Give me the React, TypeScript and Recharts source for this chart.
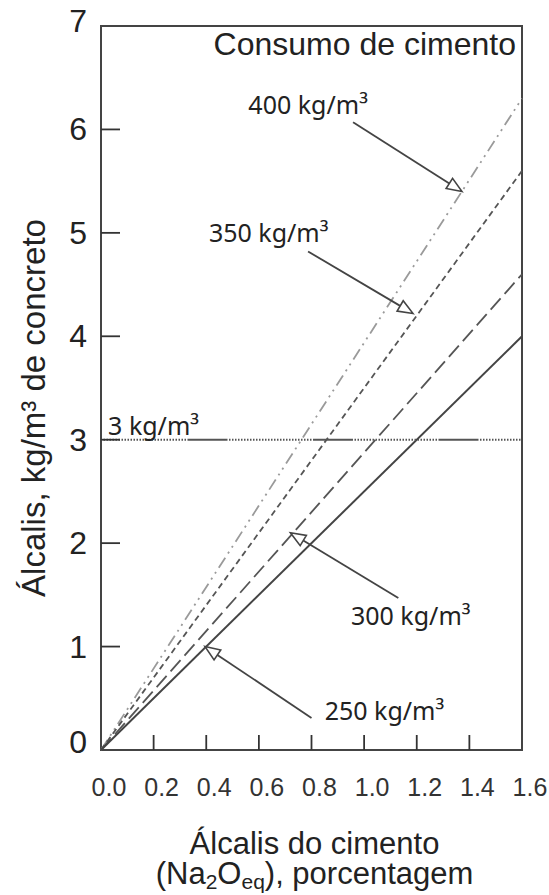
import React from 'react';
import { LineChart, Line, XAxis, YAxis, ReferenceLine, ReferenceDot, ReferenceArea } from 'recharts';

// alkali content of the cement (%), two ends of each line
const alkaliPct = [0, 1.6];
// alkalis per m3 of concrete, one series per cement content
const cement250 = [0, 4.0];
const cement300 = [0, 4.6];
const cement350 = [0, 5.6];
const cement400 = [0, 6.3];

const xTicks = [0, 0.2, 0.4, 0.6, 0.8, 1.0, 1.2, 1.4, 1.6];
const yTicks = [0, 1, 2, 3, 4, 5, 6, 7];
const limitLevel = 3;

const toPoints = (ys: number[]) => alkaliPct.map((x, i) => ({ x, y: ys[i] }));

const SANS = 'Liberation Sans, Arial, sans-serif';
const NOTE = "'Noto Sans', sans-serif";
const INK = '#222';

// dotted limit line with a short solid stretch every ~125px
const limitDash = ['40', ...Array(57).fill('1.5')].join(' ');

const YTick = (props: any) => {
  const { x, y, payload } = props;
  const v = payload.value;
  const shift = v === 0 ? -8 : v === 7 ? -5 : 0;
  return (
    <g>
      {v !== 0 && v !== 7 && <line x1={x} x2={x + 19} y1={y} y2={y} stroke="#333" strokeWidth={1.8} />}
      <text x={x - 14} y={y + shift} dy={11} textAnchor="end" fontSize={32} fontFamily={SANS} fill={INK}>
        {v}
      </text>
    </g>
  );
};

const XTick = (props: any) => {
  const { x, y, payload } = props;
  const v = payload.value;
  return (
    <g>
      {v !== 0 && v !== 1.6 && <line x1={x} x2={x} y1={y} y2={y - 15} stroke="#333" strokeWidth={1.8} />}
      <text x={x + 8} y={y + 46} textAnchor="middle" fontSize={25} fontFamily={SANS} fill="#333">
        {v.toFixed(1)}
      </text>
    </g>
  );
};

const XTitle = (props: any) => {
  const { x, y, width } = props.viewBox;
  const cx = x + width / 2 + 3;
  return (
    <g fontFamily={SANS} fontSize={31} fill={INK}>
      <text x={cx} y={y + 104} textAnchor="middle">Álcalis do cimento</text>
      <text x={cx} y={y + 134} textAnchor="middle">
        <tspan>(Na</tspan>
        <tspan dy={5} fontSize={21}>2</tspan>
        <tspan dy={-5}>O</tspan>
        <tspan dy={5} fontSize={21}>eq</tspan>
        <tspan dy={-5}>), porcentagem</tspan>
      </text>
    </g>
  );
};

const YTitle = (props: any) => {
  const { y, height } = props.viewBox;
  const cy = y + height / 2 + 20;
  return (
    <text
      x={45}
      y={cy}
      transform={`rotate(-90, 45, ${cy})`}
      textAnchor="middle"
      fontFamily={SANS}
      fontSize={33}
      fill={INK}
    >
      Álcalis, kg/m³ de concreto
    </text>
  );
};

const Arrow = (props: any) => {
  const { x1, y1, x2, y2 } = props;
  const a = Math.atan2(y2 - y1, x2 - x1);
  const len = 15;
  const half = 6;
  const bx = x2 - len * Math.cos(a);
  const by = y2 - len * Math.sin(a);
  const px = -Math.sin(a) * half;
  const py = Math.cos(a) * half;
  return (
    <g>
      <line x1={x1} y1={y1} x2={bx} y2={by} stroke="#444" strokeWidth={1.8} />
      <polygon
        points={`${x2},${y2} ${bx + px},${by + py} ${bx - px},${by - py}`}
        fill="#fff"
        stroke="#444"
        strokeWidth={1.6}
      />
    </g>
  );
};

const note = (text: string, anchor = 'start', size = 25, family = NOTE) => (props: any) => (
  <text x={props.cx} y={props.cy} textAnchor={anchor} fontSize={size} fontFamily={family} fill={INK}>
    {text}
  </text>
);

const App: React.FC = () => {
  return (
    <div style={{ position: 'absolute', left: 0, top: 0, background: '#fff' }}>
      <LineChart width={549} height={895} margin={{ top: 26, right: 27, bottom: 0, left: 0 }}>
        <XAxis
          dataKey="x"
          type="number"
          domain={[0, 1.6]}
          ticks={xTicks}
          axisLine={false}
          tickLine={false}
          tickSize={0}
          tickMargin={0}
          height={145}
          tick={<XTick />}
          interval={0}
          label={(p: any) => <XTitle {...p} />}
        />
        <YAxis
          type="number"
          domain={[0, 7]}
          ticks={yTicks}
          axisLine={false}
          tickLine={false}
          tickSize={0}
          tickMargin={0}
          width={101}
          tick={<YTick />}
          interval={0}
          label={(p: any) => <YTitle {...p} />}
        />

        <Line data={toPoints(cement400)} dataKey="y" type="linear" stroke="#9a9a9a" strokeWidth={1.8}
          strokeDasharray="12 5 2 5 2 5" dot={false} isAnimationActive={false} />
        <Line data={toPoints(cement350)} dataKey="y" type="linear" stroke="#555" strokeWidth={1.8}
          strokeDasharray="6 4" dot={false} isAnimationActive={false} />
        <Line data={toPoints(cement300)} dataKey="y" type="linear" stroke="#555" strokeWidth={1.8}
          strokeDasharray="15 6" dot={false} isAnimationActive={false} />
        <Line data={toPoints(cement250)} dataKey="y" type="linear" stroke="#444" strokeWidth={2}
          dot={false} isAnimationActive={false} />

        <ReferenceLine y={limitLevel} stroke="#555" strokeWidth={2} strokeDasharray={limitDash} strokeDashoffset={39} />

        <ReferenceArea x1={0} x2={1.6} y1={0} y2={7} fill="none" stroke="#444" strokeWidth={2} />

        <ReferenceLine segment={[{ x: 0.958, y: 6.07 }, { x: 1.372, y: 5.4 }]} shape={Arrow} />
        <ReferenceLine segment={[{ x: 0.787, y: 4.82 }, { x: 1.186, y: 4.22 }]} shape={Arrow} />
        <ReferenceLine segment={[{ x: 1.13, y: 1.47 }, { x: 0.72, y: 2.1 }]} shape={Arrow} />
        <ReferenceLine segment={[{ x: 0.8, y: 0.31 }, { x: 0.395, y: 1.0 }]} shape={Arrow} />

        <ReferenceDot x={1.577} y={6.72} r={0} shape={note('Consumo de cimento', 'end', 32, SANS)} />
        <ReferenceDot x={0.56} y={6.15} r={0} shape={note('400 kg/m³')} />
        <ReferenceDot x={0.41} y={4.91} r={0} shape={note('350 kg/m³')} />
        <ReferenceDot x={0.027} y={3.05} r={0} shape={note('3 kg/m³')} />
        <ReferenceDot x={0.95} y={1.21} r={0} shape={note('300 kg/m³')} />
        <ReferenceDot x={0.85} y={0.29} r={0} shape={note('250 kg/m³')} />
      </LineChart>
    </div>
  );
};

export default App;
